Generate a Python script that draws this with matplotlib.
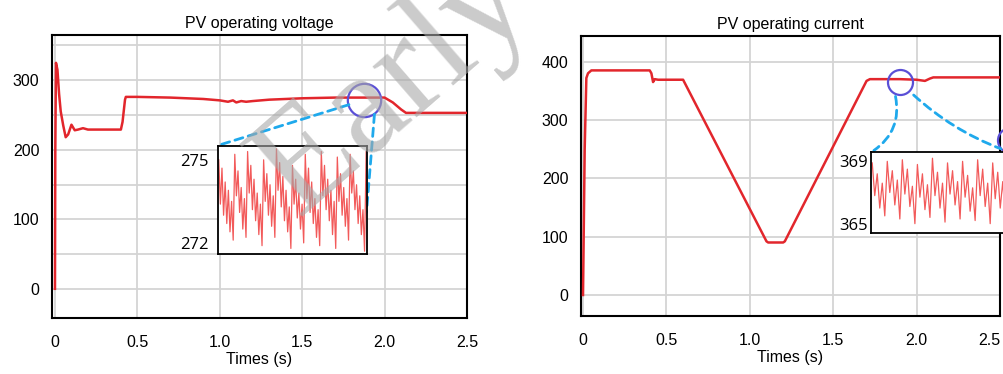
"""PV operating voltage / current with zoomed ripple insets."""
import matplotlib
matplotlib.use("Agg")
import matplotlib.pyplot as plt

plt.rcParams["font.family"] = ["Liberation Sans", "DejaVu Sans"]

# ---- data ----
volt_t = [0, 0.002, 0.006, 0.015, 0.025, 0.035, 0.05, 0.065, 0.08, 0.1, 0.12,
          0.14, 0.17, 0.2, 0.3, 0.40, 0.41, 0.425, 0.43, 0.5, 0.7, 0.9, 1.0,
          1.05, 1.08, 1.1, 1.13, 1.16, 1.2, 1.3, 1.5, 1.7, 1.9, 2.0, 2.05,
          2.1, 2.13, 2.3, 2.5]
volt_v = [0, 200, 325, 315, 280, 255, 235, 218, 222, 236, 228, 229, 231, 229,
          229, 229, 240, 272, 276, 276, 275, 273, 271, 269, 271, 268, 270, 269,
          270, 272, 274, 275, 275, 275, 268, 258, 253, 253, 253]

curr_t = [0, 0.01, 0.02, 0.03, 0.05, 0.1, 0.4, 0.41, 0.42, 0.43, 0.45, 0.6,
          1.1, 1.11, 1.2, 1.21, 1.7, 1.72, 1.9, 2.0, 2.05, 2.08, 2.1, 2.2, 2.5]
curr_i = [0, 250, 372, 380, 385, 385, 385, 380, 365, 370, 369, 369, 92, 90,
          90, 92, 367, 370, 370, 369, 367, 371, 373, 373, 373]

volt_ripple = [275.0, 273.4, 274.7, 273.0, 274.2, 272.7, 273.9, 272.4,
               273.5, 272.1, 275.2, 273.7, 274.6, 273.1, 274.0, 272.5,
               273.6, 272.2, 275.3, 273.8, 274.8, 273.2, 274.3, 272.8,
               273.8, 272.3, 273.4, 271.9, 275.0, 273.5, 274.5, 273.0,
               274.1, 272.6, 273.7, 272.2, 275.4, 273.9, 274.9, 273.3,
               274.4, 272.8, 273.9, 272.4, 273.3, 271.8, 274.8, 273.4,
               274.3, 272.9, 273.8, 272.5, 273.4, 272.0, 275.2, 273.6,
               274.7, 273.1, 274.2, 272.7, 273.6, 272.2, 273.2, 271.9,
               275.3, 273.7, 274.8, 273.2, 274.3, 272.8, 273.9, 272.3,
               273.5, 271.8, 275.1, 273.5, 274.5, 273.0, 274.0, 272.6,
               273.6, 272.1, 275.2, 273.8, 274.6, 273.2, 274.1, 272.7,
               273.7, 272.3, 273.2, 271.7, 275.3]
curr_ripple = [368.9, 366.8, 368.2, 366.0, 367.6, 365.5, 369.0, 367.0, 368.4, 366.2,
               367.8, 365.3, 369.1, 366.9, 368.5, 366.1, 367.4, 365.0, 368.8, 366.7,
               368.2, 365.9, 367.5, 365.4, 369.2, 366.8, 368.3, 366.0, 367.6, 365.1,
               368.9, 366.9, 368.4, 366.2, 367.7, 365.3, 369.0, 366.7, 368.1, 365.8,
               367.3, 365.2, 369.1, 366.8, 368.5, 366.1, 367.6, 365.0, 368.9, 366.6,
               368.3, 366.0, 367.7, 365.4, 369.0, 366.9, 368.4, 366.2, 367.5, 365.1,
               368.8, 366.8, 368.2, 365.9, 367.6, 365.3, 369.1, 366.7]

xticks = [0, 0.5, 1.0, 1.5, 2.0, 2.5]
xticklabels = ["0", "0.5", "1.0", "1.5", "2.0", "2.5"]

RED = "#e2262c"
RIPPLE = "#f25a5a"
GRID = "#d4d4d4"
CIRCLE = "#5a4fd6"
DASH = "#1fa9ec"

fig = plt.figure(figsize=(10.04, 3.74), dpi=100)


def style_main(ax, title, xlim, ylim, yticks, ygrid):
    ax.set_xlim(*xlim)
    ax.set_ylim(*ylim)
    ax.set_xticks(xticks)
    ax.set_xticklabels(xticklabels)
    ax.set_yticks(yticks)
    ax.set_yticklabels([str(v) for v in yticks])
    for v in ygrid:
        ax.axhline(v, color=GRID, lw=1.3, zorder=0)
    for v in xticks:
        ax.axvline(v, color=GRID, lw=1.3, zorder=0)
    ax.tick_params(length=0, labelsize=11.5, pad=9)
    ax.tick_params(axis="x", pad=12)
    for s in ax.spines.values():
        s.set_linewidth(1.5)
    ax.set_title(title, fontsize=11.5, pad=5)
    ax.set_xlabel("Times (s)", fontsize=11.5, labelpad=2)


def style_inset(ax, data, ylim, labels, pad):
    ax.plot(range(len(data)), data, color=RIPPLE, lw=0.9)
    ax.set_xlim(-0.5, len(data) - 0.5)
    ax.set_ylim(*ylim)
    ax.set_xticks([])
    ax.set_yticks(labels)
    ax.set_yticklabels([str(v) for v in labels],
                       family=["Open Sans", "DejaVu Sans"])
    ax.tick_params(length=0, labelsize=12, pad=pad)
    for s in ax.spines.values():
        s.set_linewidth(1.3)


def dashed(ax, start, end, rad=0.0):
    ax.annotate("", xy=end, xytext=start,
                arrowprops=dict(arrowstyle="-", ls=(0, (3, 2)), color=DASH,
                                lw=2, connectionstyle=f"arc3,rad={rad}"),
                annotation_clip=False, zorder=6)


# ---- left: voltage ----
ax1 = fig.add_axes([0.0518, 0.1497, 0.4133, 0.7567])
style_main(ax1, "PV operating voltage", (-0.018, 2.5), (-42, 365),
           [0, 100, 200, 300], [0, 50, 100, 150, 200, 250, 300, 350])
ax1.plot(volt_t, volt_v, color=RED, lw=1.8, zorder=3)
ax1.plot([1.877], [272], "o", ms=24, mfc="none", mec=CIRCLE, mew=1.6, zorder=5)
dashed(ax1, (1.80, 266), (0.987, 206))
dashed(ax1, (1.94, 255), (1.889, 106))

ins1 = fig.add_axes([0.2171, 0.3209, 0.1484, 0.2888])
style_inset(ins1, volt_ripple, (271.6, 275.5), [275, 272], 7)

# ---- right: current ----
ax2 = fig.add_axes([0.5787, 0.1551, 0.4173, 0.7487])
style_main(ax2, "PV operating current", (-0.012, 2.5), (-36, 444),
           [0, 100, 200, 300, 400], [0, 100, 200, 300, 400])
# last label sits against the figure edge
ax2.get_xticklabels()[-1].set_horizontalalignment("right")
ax2.plot(curr_t, curr_i, color=RED, lw=1.8, zorder=3)
ax2.plot([1.90], [365], "o", ms=18, mfc="none", mec=CIRCLE, mew=1.6, zorder=5)
dashed(ax2, (1.87, 345), (1.73, 245), rad=-0.35)
dashed(ax2, (1.97, 346), (2.52, 249), rad=0.1)
ax2.plot([2.56], [265], "o", ms=18, mfc="none", mec=CIRCLE, mew=1.6,
         zorder=5, clip_on=False)

ins2 = fig.add_axes([0.8675, 0.377, 0.17, 0.2166])
style_inset(ins2, curr_ripple, (364.4, 369.6), [369, 365], 2)

# watermark
fig.text(0.393, 0.77, "Early", fontsize=105, family=["Liberation Serif"],
         color="#a8a8a8", alpha=0.6, rotation=41, ha="center", va="center",
         zorder=10)

fig.savefig("out.png", dpi=100)
